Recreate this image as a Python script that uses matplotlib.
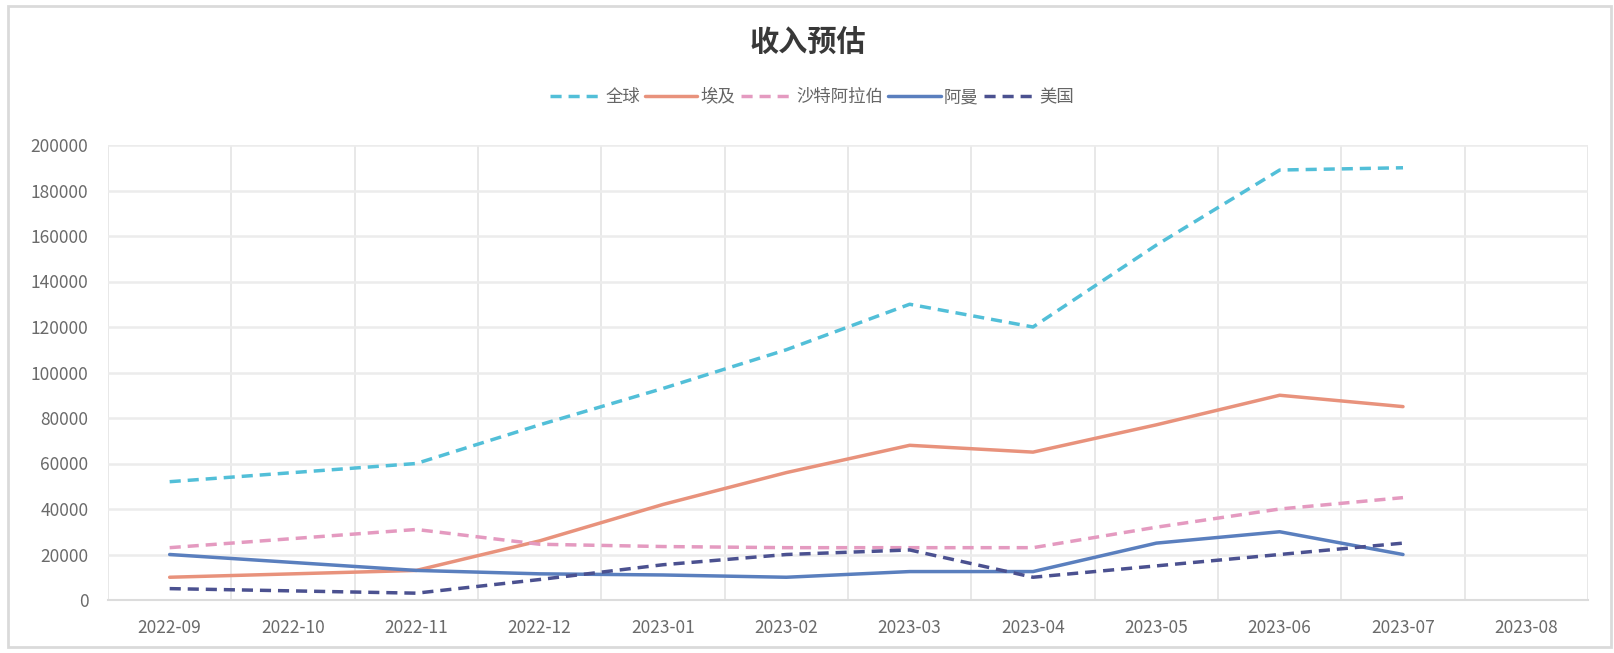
import matplotlib
matplotlib.use("Agg")
import matplotlib.pyplot as plt
from matplotlib.patches import Rectangle
import numpy as np

plt.rcParams['font.family'] = ['Noto Sans CJK SC', 'DejaVu Sans']

months = ["2022-09", "2022-10", "2022-11", "2022-12", "2023-01", "2023-02",
          "2023-03", "2023-04", "2023-05", "2023-06", "2023-07", "2023-08"]

global_rev = [52000, 56000, 60000, 77000, 93000, 110000, 130000, 120000, 156000, 189000, 190000, None]
egypt_rev = [10000, 11500, 13000, 26000, 42000, 56000, 68000, 65000, 77000, 90000, 85000, None]
saudi_rev = [23000, 27000, 31000, 24500, 23500, 23000, 23000, 23000, 32000, 40000, 45000, None]
oman_rev = [20000, 16500, 13000, 11500, 11000, 10000, 12500, 12500, 25000, 30000, 20000, None]
usa_rev = [5000, 4000, 3000, 9000, 15500, 20000, 22000, 10000, 15000, 20000, 25000, None]

series_names = ["全球", "埃及", "沙特阿拉伯", "阿曼", "美国"]
y_ticks = [0, 20000, 40000, 60000, 80000, 100000, 120000, 140000, 160000, 180000, 200000]

styles = [
    dict(color="#52bfd8", dashes=(3.2, 2.0)),
    dict(color="#e8927c", dashes=None),
    dict(color="#e49ac0", dashes=(3.2, 2.0)),
    dict(color="#5a7fbe", dashes=None),
    dict(color="#4b5190", dashes=(3.2, 2.0)),
]

fig = plt.figure(figsize=(16.15, 6.53), dpi=100)
fig.patch.set_facecolor("white")
fig.patches.append(Rectangle((8 / 1615, 6 / 653), 1603 / 1615, 641 / 653,
                             transform=fig.transFigure, fill=False,
                             edgecolor="#dadada", linewidth=2))

ax = fig.add_axes([108 / 1615, 53 / 653, 1480 / 1615, 455 / 653])
x = np.arange(len(months))

for name, data, st in zip(series_names, [global_rev, egypt_rev, saudi_rev, oman_rev, usa_rev], styles):
    y = np.array([np.nan if v is None else v for v in data], dtype=float)
    line, = ax.plot(x, y, color=st["color"], linewidth=2.5, label=name,
                    solid_capstyle="round", dash_capstyle="butt")
    if st["dashes"]:
        line.set_dashes(st["dashes"])

ax.set_xlim(-0.5, len(months) - 0.5)
ax.set_ylim(0, 200000)
ax.set_xticks(x)
ax.set_xticklabels(months)
ax.set_xticks(np.arange(-0.5, len(months)), minor=True)
ax.set_yticks(y_ticks)
ax.set_yticklabels([str(v) for v in y_ticks])

ax.grid(False)
ax.grid(axis="x", which="minor", color="#e4e4e4", linewidth=1.2)
ax.grid(axis="y", which="major", color="#ececec", linewidth=1.8)
ax.set_axisbelow(True)

for side in ["top", "right", "left"]:
    ax.spines[side].set_visible(False)
ax.spines["bottom"].set_color("#dcdcdc")
ax.spines["bottom"].set_linewidth(1.5)

ax.tick_params(axis="both", which="both", length=0, colors="#6a6a6a", labelsize=12.5)
ax.tick_params(axis="x", pad=14)
ax.tick_params(axis="y", pad=14)

fig.text(808 / 1615, 1 - 43 / 653, "收入预估", ha="center", va="center",
         fontsize=21, fontweight="bold", color="#383838")

leg = fig.legend(loc="center", bbox_to_anchor=(812 / 1615, 1 - 97 / 653), ncol=5,
                 frameon=False, fontsize=12.5, handlelength=3.0, handletextpad=0.2,
                 columnspacing=0.3, labelcolor="#666666")

fig.savefig("out.png", dpi=100, facecolor="white")
